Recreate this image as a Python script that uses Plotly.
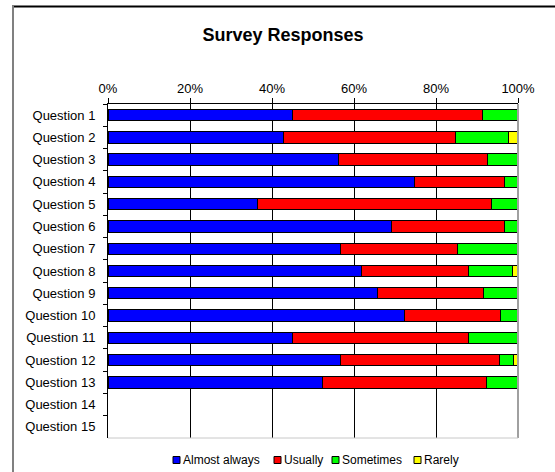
import plotly.graph_objects as go

questions = [f"Question {i}" for i in range(1, 16)]
almost_always = [45.0, 42.9, 56.1, 74.8, 36.5, 69.2, 56.6, 61.8, 65.8, 72.4, 45.0, 56.8, 52.4, None, None]
usually       = [46.4, 41.9, 36.5, 22.0, 57.1, 27.6, 28.6, 26.2, 25.8, 23.4, 43.0, 38.7, 40.0, None, None]
sometimes     = [8.6, 12.9, 7.4, 3.2, 6.4, 3.2, 14.8, 10.7, 8.4, 4.2, 12.0, 3.4, 7.6, None, None]
rarely        = [0.0, 2.3, 0.0, 0.0, 0.0, 0.0, 0.0, 1.3, 0.0, 0.0, 0.0, 1.1, 0.0, None, None]

series = [
    ("Almost always", almost_always, "#0000FF"),
    ("Usually", usually, "#FF0000"),
    ("Sometimes", sometimes, "#00FF00"),
    ("Rarely", rarely, "#FFFF00"),
]

FONT = "Arial, Liberation Sans, sans-serif"

fig = go.Figure()
for name, vals, col in series:
    fig.add_trace(go.Bar(
        y=questions, x=vals, name=name, orientation="h",
        marker=dict(color=col, line=dict(color="black", width=1)),
        showlegend=False,
    ))

W, H = 555, 472
L, R, T, B = 108, 37, 104, 34
pw, ph = W - L - R, H - T - B

fig.update_layout(
    width=W, height=H,
    barmode="stack", bargap=0.49,
    paper_bgcolor="white", plot_bgcolor="white",
    margin=dict(l=L, r=R, t=T, b=B, autoexpand=False),
    font=dict(family=FONT, color="black", size=12),
    title=dict(text="<b>Survey Responses</b>", x=283 / W, xanchor="center",
               y=1 - 35 / H, yanchor="middle", font=dict(size=18, family=FONT)),
    xaxis=dict(side="top", range=[0, 100], dtick=20, ticksuffix="%",
               showgrid=True, gridcolor="black", gridwidth=1,
               showline=True, linecolor="black", linewidth=1,
               ticks="outside", ticklen=5, tickcolor="black",
               zeroline=False, tickfont=dict(size=13), fixedrange=True),
    yaxis=dict(categoryorder="array", categoryarray=questions, autorange="reversed",
               showline=True, linecolor="black", linewidth=1,
               ticks="outside", ticklen=4, tickcolor="black", tickson="boundaries",
               ticklabelstandoff=9,
               showgrid=False, tickfont=dict(size=13), fixedrange=True),
)

# plot-area right and bottom border (gray) and outer chart frame
fig.add_shape(type="line", xref="paper", yref="paper", x0=1, x1=1, y0=0, y1=1,
              line=dict(color="#a0a0a0", width=2))
fig.add_shape(type="line", xref="paper", yref="paper", x0=0, x1=1, y0=0, y1=0,
              line=dict(color="#c8c8c8", width=1))
fig.add_shape(type="line", xref="paper", yref="paper",
              x0=(12 - L) / pw, x1=(W + 5 - L) / pw, y0=(H - B - 6.5) / ph, y1=(H - B - 6.5) / ph,
              line=dict(color="black", width=2), layer="above")
fig.add_shape(type="line", xref="paper", yref="paper",
              x0=(13 - L) / pw, x1=(13 - L) / pw, y0=(H - B - 6) / ph, y1=-(B + 5) / ph,
              line=dict(color="#808080", width=2), layer="above")

# legend (compact, Excel style) drawn in the bottom margin
legend_box_px = [173, 274, 332, 414]
ly = 460
for (name, _, col), bx in zip(series, legend_box_px):
    fig.add_shape(type="rect", xref="paper", yref="paper",
                  x0=(bx - L) / pw, x1=(bx + 7 - L) / pw,
                  y0=(H - B - ly - 3.5) / ph, y1=(H - B - ly + 3.5) / ph,
                  fillcolor=col, line=dict(color="black", width=1))
    fig.add_annotation(text=name, xref="paper", yref="paper",
                       x=(bx + 8 - L) / pw, y=(H - B - ly) / ph,
                       xanchor="left", yanchor="middle", showarrow=False,
                       font=dict(size=12, family=FONT))

fig.write_html("out.html")
